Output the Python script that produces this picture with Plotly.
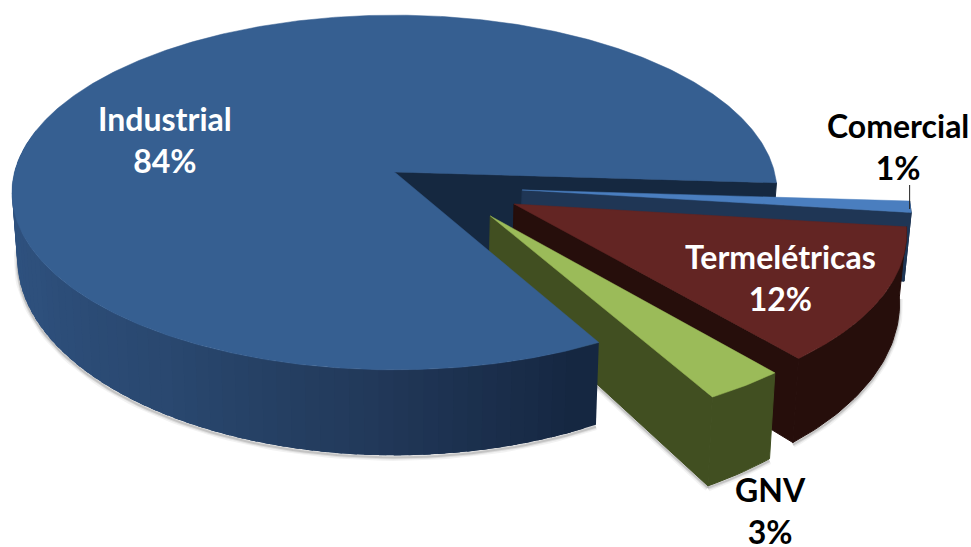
import numpy as np
import plotly.graph_objects as go

CATEGORIES = ["Industrial", "Comercial", "Termelétricas", "GNV"]
VALUES = [84, 1, 12, 3]

# projection / styling constants
CX, CY, FX, FY, K = 394.5, 172.0, 380.0, 175.0, 0.1155
H0, K2, SHRINK = 65.0, 0.24, 0.014
ROTATION = 3.5  # angle (deg) where the Industrial slice ends, clockwise on screen
OFFSETS = {"Industrial": (0, 0), "Comercial": (0.332, 0.1017), "Termelétricas": (0.308, 0.179), "GNV": (0.245, 0.244)}
TOP = {"Industrial": "#365f91", "Comercial": "#4a7ebf", "Termelétricas": "#632523", "GNV": "#9bbb59"}
WALL = {"Industrial": "#152840", "Comercial": "#1f3655", "Termelétricas": "#260e0b", "GNV": "#414f21"}
LABEL_POS = {"Industrial": (165, 139), "Comercial": (898, 146), "Termelétricas": (780, 277), "GNV": (770, 510)}
LABEL_COLOR = {"Industrial": "white", "Comercial": "black", "Termelétricas": "white", "GNV": "black"}
WALL_STOPS_T = [60, 90, 120, 150, 190]
WALL_STOPS_C = [(0x15, 0x26, 0x40), (0x22, 0x39, 0x5a), (0x2a, 0x48, 0x70), (0x2e, 0x50, 0x7c), (0x30, 0x54, 0x84)]


def project(X, Y, z=0.0):
    X, Y = np.asarray(X, float), np.asarray(Y, float)
    den = 1 - K * Y
    px = CX + FX * X / den * (1 - SHRINK * z)
    py = CY + FY * Y / den + z * H0 / (1 - K2 * Y)
    return px, py


def rim(name, t, z=0.0):
    ox, oy = OFFSETS[name]
    r = np.radians(t)
    return project(ox + np.cos(r), oy + np.sin(r), z)


def apex(name, z=0.0):
    ox, oy = OFFSETS[name]
    return project(np.array([ox]), np.array([oy]), z)


def poly(fig, xs, ys, color, width=1.0):
    fig.add_trace(go.Scatter(x=list(xs), y=list(ys), mode="lines", fill="toself", fillcolor=color,
                             line=dict(color=color, width=width), hoverinfo="skip", showlegend=False))


def top_face(fig, name, t0, t1):
    ts = np.linspace(t0, t1, max(8, int((t1 - t0) * 2)))
    ax, ay = apex(name)
    x, y = rim(name, ts)
    poly(fig, np.r_[ax, x, ax], np.r_[ay, y, ay], TOP[name], width=0.5)


def outer_wall(fig, name, t0, t1):
    ts = np.linspace(t0, t1, max(8, int(t1 - t0)))
    xt, yt = rim(name, ts)
    xb, yb = rim(name, ts, 1.0)
    poly(fig, np.r_[xt, xb[::-1], xt[0]], np.r_[yt, yb[::-1], yt[0]], WALL[name])


def cut_face(fig, name, t, apex_depth=1.0):
    ax, ay = apex(name)
    bx, by = apex(name, apex_depth)
    rx, ry = rim(name, t)
    sx, sy = rim(name, t, 1.0)
    poly(fig, [ax[0], float(rx), float(sx), bx[0], ax[0]], [ay[0], float(ry), float(sy), by[0], ay[0]], WALL[name])


def shadow_path(fig, x, y):
    for w, a in [(7, 0.05), (4, 0.08), (2, 0.12)]:
        fig.add_trace(go.Scatter(x=x, y=np.asarray(y) + 2, mode="lines", line=dict(color=f"rgba(0,0,0,{a})", width=w),
                                 hoverinfo="skip", showlegend=False))


def shadow(fig, name, t0, t1):
    ts = np.linspace(t0, t1, 80)
    x, y = rim(name, ts, 1.0)
    shadow_path(fig, x, y)


# slice angles from values (clockwise from the end of Industrial)
total = sum(VALUES)
spans = {c: v / total * 360 for c, v in zip(CATEGORIES, VALUES)}
angles = {}
t = ROTATION
for c in CATEGORIES[1:]:
    angles[c] = (t, t + spans[c])
    t += spans[c]
angles["Industrial"] = (t, t + spans["Industrial"])

fig = go.Figure()

# shadows
ind0, ind1 = angles["Industrial"]
shadow(fig, "Industrial", ind0, 182)
shadow(fig, "Termelétricas", *angles["Termelétricas"])
shadow(fig, "GNV", *angles["GNV"])
gx, gy = rim("GNV", angles["GNV"][1], 1.0)
abx, aby = apex("GNV", 1.0)
shadow_path(fig, [abx[0], float(gx)], [aby[0], float(gy)])

# inner cut face of Industrial, visible in the gap
cut_face(fig, "Industrial", ROTATION, apex_depth=1.5)

# exploded slices back to front
for name in ["Comercial", "Termelétricas", "GNV"]:
    a, b = angles[name]
    outer_wall(fig, name, a, b)
    cut_face(fig, name, b)
    top_face(fig, name, a, b)

# Industrial outer wall with shading, then its top (overlapping strips hide seams)
edges = np.arange(ind0, 192, 2.0)
for e0, e1 in zip(edges[::-1][1:], edges[::-1][:-1]):
    m = (e0 + e1) / 2
    rgb = [int(np.interp(m, WALL_STOPS_T, [s[i] for s in WALL_STOPS_C])) for i in range(3)]
    col = f"rgb({rgb[0]},{rgb[1]},{rgb[2]})"
    ts = np.array([e0, e1 + 3.0])
    xt, yt = rim("Industrial", ts)
    xb, yb = rim("Industrial", ts, 1.0)
    poly(fig, np.r_[xt, xb[::-1], xt[0]], np.r_[yt, yb[::-1], yt[0]], col, width=0)
top_face(fig, "Industrial", ind0, ind1)

# leader line for Comercial
lx, ly = rim("Comercial", angles["Comercial"][0])
fig.add_trace(go.Scatter(x=[float(lx), float(lx)], y=[185, float(ly) + 8], mode="lines",
                         line=dict(color="#222222", width=1), hoverinfo="skip", showlegend=False))

for c, v in zip(CATEGORIES, VALUES):
    fig.add_annotation(x=LABEL_POS[c][0], y=LABEL_POS[c][1], xref="x", yref="y",
                       text=f"<b>{c}<br>{round(v / total * 100)}%</b>", showarrow=False,
                       font=dict(family="Lato, Open Sans, sans-serif", size=32, color=LABEL_COLOR[c]))

fig.update_layout(width=971, height=547, margin=dict(l=0, r=0, t=0, b=0), paper_bgcolor="white",
                  plot_bgcolor="white", showlegend=False,
                  xaxis=dict(range=[0, 971], visible=False, fixedrange=True),
                  yaxis=dict(range=[547, 0], visible=False, fixedrange=True))
fig.write_html("out.html", config={"displayModeBar": False},
               post_script="document.body.style.margin='0';document.documentElement.style.overflow='hidden';")
